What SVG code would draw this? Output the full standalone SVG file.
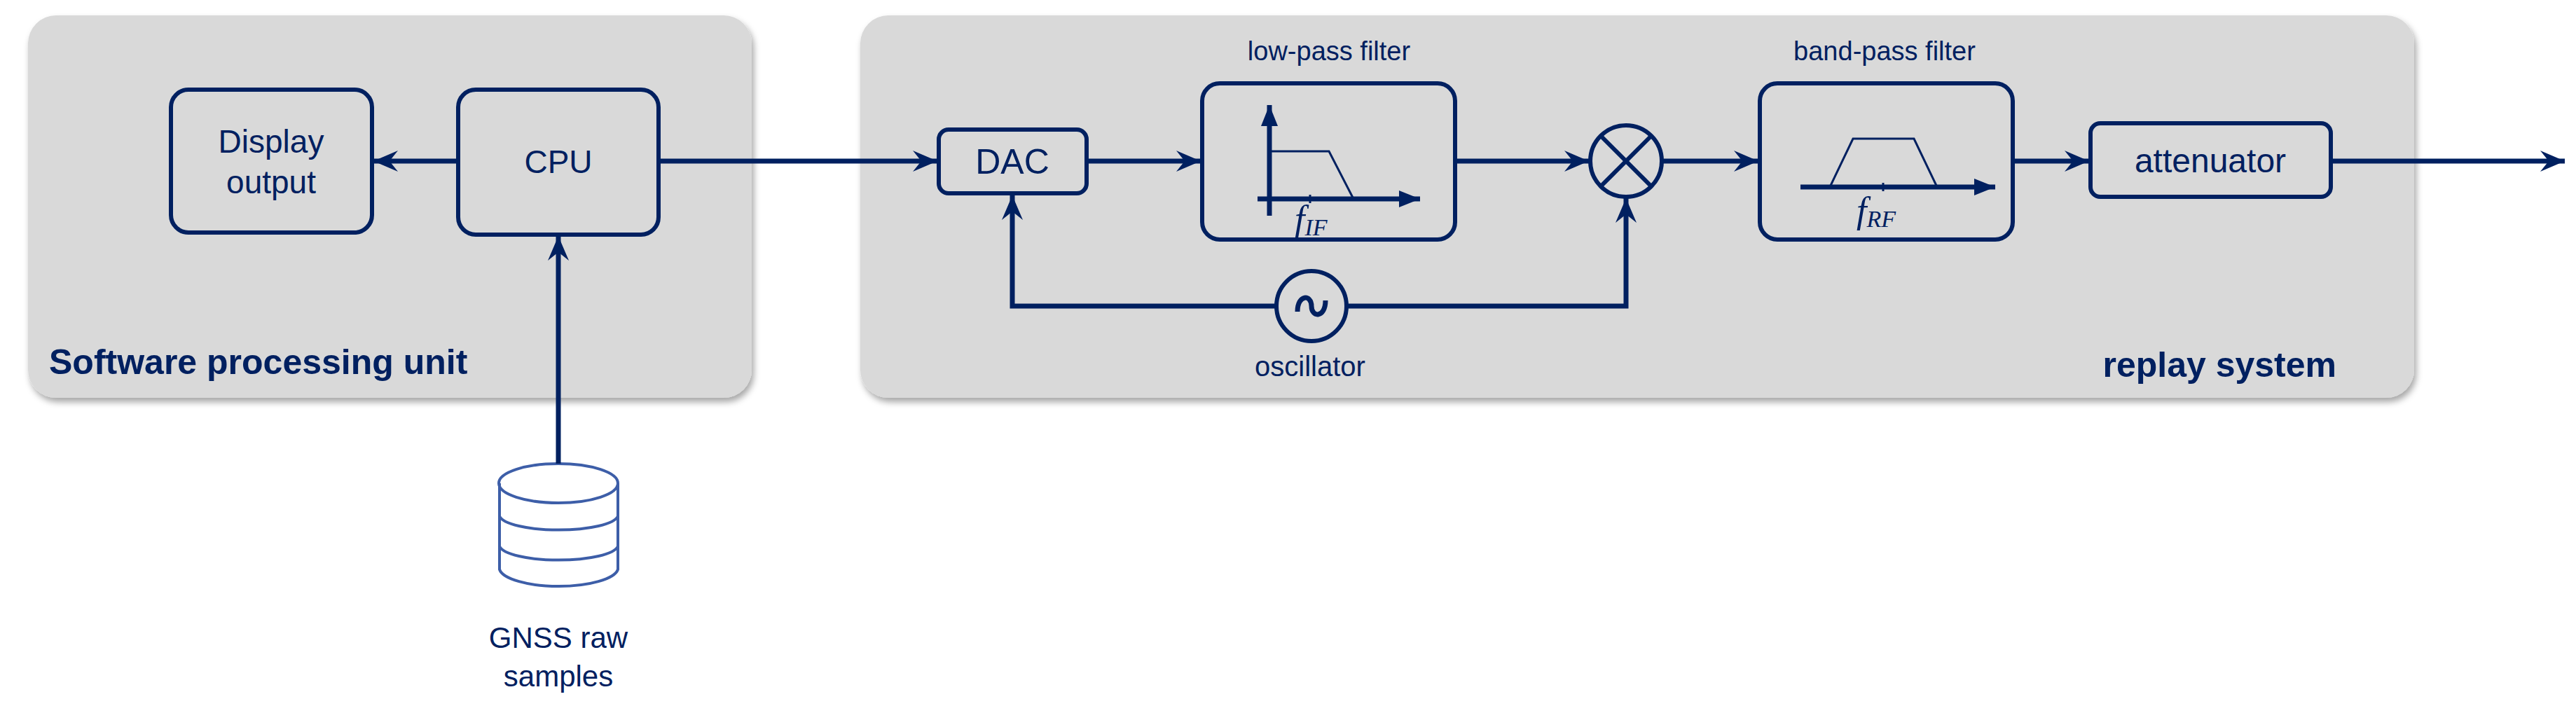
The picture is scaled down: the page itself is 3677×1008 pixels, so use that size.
<svg xmlns="http://www.w3.org/2000/svg" width="3677" height="1008" viewBox="0 0 3677 1008">
<style>
.panel{fill:#d9d9d9;filter:url(#sh)}
.box{fill:none;stroke:#002060;stroke-width:6}
.ln{fill:none;stroke:#002060;stroke-width:7}
.thin{fill:none;stroke:#002060;stroke-width:3}
.t{font-family:"Liberation Sans",Arial,sans-serif;fill:#002060}
.b{font-weight:bold}
.m{font-family:"Liberation Serif",serif;font-style:italic;fill:#002060}
.db{fill:none;stroke:#3d5ea8;stroke-width:4}
</style>
<defs>
<filter id="sh" x="-5%" y="-5%" width="110%" height="115%"><feDropShadow dx="3" dy="6" stdDeviation="5" flood-color="#000" flood-opacity="0.35"/></filter>
<marker id="a" markerUnits="userSpaceOnUse" markerWidth="40" markerHeight="40" viewBox="-36 -16 40 32" refX="0" refY="0" orient="auto"><path d="M0,0 L-35,-15 L-23,0 L-35,15 z" fill="#002060"/></marker>
<marker id="s" markerUnits="userSpaceOnUse" markerWidth="40" markerHeight="40" viewBox="-36 -16 40 32" refX="0" refY="0" orient="auto"><path d="M0,0 L-30,-12 L-30,12 z" fill="#002060"/></marker>
</defs>
<g id="panel-software"><rect class="panel" x="40" y="22" width="1033" height="546" rx="40"/><text class="t b" x="70" y="534" font-size="50">Software processing unit</text></g>
<g id="panel-replay"><rect class="panel" x="1228" y="22" width="2218" height="546" rx="40"/><text class="t b" x="3335" y="538" font-size="50" text-anchor="end">replay system</text></g>
<g id="display"><rect class="box" x="244" y="128" width="287" height="204" rx="25"/><text class="t" x="387" y="218" font-size="46" text-anchor="middle">Display</text><text class="t" x="387" y="276" font-size="46" text-anchor="middle">output</text></g>
<g id="cpu"><rect class="box" x="654" y="128" width="286" height="207" rx="25"/><text class="t" x="797" y="247" font-size="46" text-anchor="middle">CPU</text></g>
<g id="dac"><rect class="box" x="1340" y="185" width="211" height="91" rx="14"/><text class="t" x="1445" y="248" font-size="50" text-anchor="middle">DAC</text></g>
<g id="lowpass"><text class="t" x="1897" y="86" font-size="38" text-anchor="middle">low-pass filter</text><rect class="box" x="1716" y="119" width="361" height="223" rx="25"/>
<line class="ln" x1="1812" y1="308" x2="1812" y2="150" stroke-width="4" marker-end="url(#s)"/>
<line class="ln" x1="1795" y1="284" x2="2027" y2="284" stroke-width="6" marker-end="url(#s)"/>
<polyline class="thin" points="1812,216 1897,216 1932,284"/><line class="thin" x1="1870" y1="278" x2="1870" y2="290"/>
<text class="m" x="1848" y="330" font-size="52">f<tspan font-size="34" dy="6">IF</tspan></text></g>
<g id="mixer"><circle class="box" cx="2321" cy="230" r="51"/><line class="box" x1="2285" y1="194" x2="2357" y2="266"/><line class="box" x1="2357" y1="194" x2="2285" y2="266"/></g>
<g id="bandpass"><text class="t" x="2690" y="86" font-size="38" text-anchor="middle">band-pass filter</text><rect class="box" x="2512" y="119" width="361" height="223" rx="25"/>
<line class="ln" x1="2570" y1="267" x2="2848" y2="267" stroke-width="6" marker-end="url(#s)"/>
<polyline class="thin" points="2612,267 2645,198 2732,198 2765,267"/><line class="thin" x1="2688" y1="261" x2="2688" y2="273"/>
<text class="m" x="2650" y="318" font-size="52">f<tspan font-size="34" dy="6">RF</tspan></text></g>
<g id="attenuator"><rect class="box" x="2984" y="176" width="343" height="105" rx="14"/><text class="t" x="3155" y="246" font-size="48" text-anchor="middle">attenuator</text></g>
<g id="oscillator"><circle class="box" cx="1872" cy="437" r="50"/><path d="M1852,445 C1852,420 1872,420 1872,437 C1872,454 1892,454 1892,429" fill="none" stroke="#002060" stroke-width="7"/><text class="t" x="1870" y="537" font-size="40" text-anchor="middle">oscillator</text></g>
<g id="gnss"><path class="db" d="M713,690 V813 A85,27 0 0 0 882,813 V690"/><ellipse class="db" cx="797" cy="690" rx="85" ry="28"/><path class="db" d="M713,737 A85,22 0 0 0 882,737 M713,780 A85,22 0 0 0 882,780"/>
<text class="t" x="797" y="925" font-size="42" text-anchor="middle">GNSS raw</text><text class="t" x="797" y="980" font-size="42" text-anchor="middle">samples</text></g>
<g id="connectors">
<line class="ln" x1="654" y1="230" x2="533" y2="230" marker-end="url(#a)"/>
<line class="ln" x1="797" y1="662" x2="797" y2="337" stroke-width="5" marker-end="url(#a)"/>
<line class="ln" x1="940" y1="230" x2="1338" y2="230" marker-end="url(#a)"/>
<line class="ln" x1="1551" y1="230" x2="1714" y2="230" marker-end="url(#a)"/>
<line class="ln" x1="2077" y1="230" x2="2268" y2="230" marker-end="url(#a)"/>
<line class="ln" x1="2372" y1="230" x2="2510" y2="230" marker-end="url(#a)"/>
<line class="ln" x1="2873" y1="230" x2="2982" y2="230" marker-end="url(#a)"/>
<line class="ln" x1="3327" y1="230" x2="3661" y2="230" marker-end="url(#a)"/>
<polyline class="ln" points="1822,437 1445,437 1445,279" marker-end="url(#a)"/>
<polyline class="ln" points="1922,437 2321,437 2321,283" marker-end="url(#a)"/>
</g>
</svg>
